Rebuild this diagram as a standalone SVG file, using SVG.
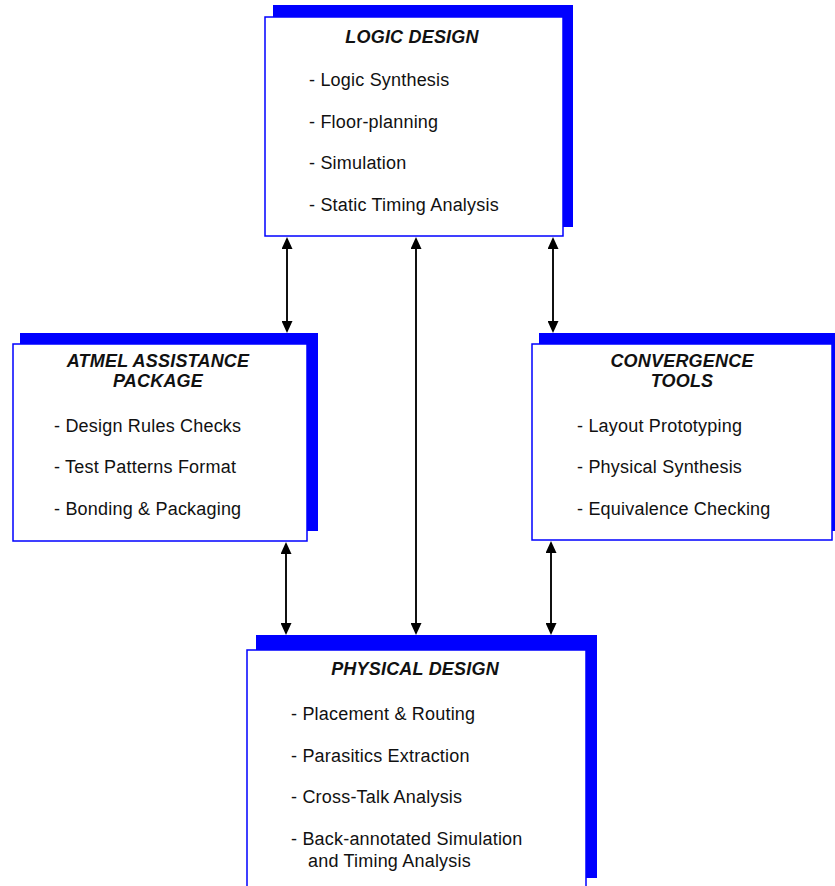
<svg xmlns="http://www.w3.org/2000/svg" width="835" height="886" viewBox="0 0 835 886">
<style>
.shadow{fill:#0000FF;stroke:none}
.box{fill:#FFFFFF;stroke:#0000FF;stroke-width:1.5}
.title{font-family:"Liberation Sans",Arial,sans-serif;font-size:18px;font-weight:bold;font-style:italic;fill:#111;text-anchor:middle;letter-spacing:0.2px}
.item{font-family:"Liberation Sans",Arial,sans-serif;font-size:18px;fill:#111;letter-spacing:0.2px}
.conn{stroke:#111;stroke-width:2;fill:none;marker-start:url(#ah);marker-end:url(#ah)}
</style>
<defs>
<marker id="ah" viewBox="0 0 12 11" refX="10" refY="5.5" markerWidth="12" markerHeight="11" markerUnits="userSpaceOnUse" orient="auto-start-reverse">
<path d="M0,0 L12,5.5 L0,11 z" fill="#000"/>
</marker>
</defs>
<rect x="0" y="0" width="835" height="886" fill="#FFFFFF"/>
<g id="connectors">
<line class="conn" x1="287" y1="239" x2="287" y2="331"/>
<line class="conn" x1="416" y1="239" x2="416" y2="633"/>
<line class="conn" x1="553" y1="239" x2="553" y2="331"/>
<line class="conn" x1="286" y1="544" x2="286" y2="633"/>
<line class="conn" x1="551" y1="543" x2="551" y2="633"/>
</g>
<g id="logic-design">
<rect class="shadow" x="273" y="5" width="300" height="222"/>
<rect class="box" x="265" y="17" width="298" height="219"/>
<text class="title" x="412" y="43">LOGIC DESIGN</text>
<text class="item" x="309" y="86">- Logic Synthesis</text>
<text class="item" x="309" y="128">- Floor-planning</text>
<text class="item" x="309" y="169">- Simulation</text>
<text class="item" x="309" y="211">- Static Timing Analysis</text>
</g>
<g id="atmel-assistance-package">
<rect class="shadow" x="20" y="333" width="298" height="198"/>
<rect class="box" x="13" y="344" width="294" height="197"/>
<text class="title" x="158" y="367">ATMEL ASSISTANCE</text>
<text class="title" x="158" y="387">PACKAGE</text>
<text class="item" x="54" y="432">- Design Rules Checks</text>
<text class="item" x="54" y="473">- Test Patterns Format</text>
<text class="item" x="54" y="515">- Bonding &amp; Packaging</text>
</g>
<g id="convergence-tools">
<rect class="shadow" x="539" y="333" width="310" height="198"/>
<rect class="box" x="532" y="344" width="300" height="196"/>
<text class="title" x="682" y="367">CONVERGENCE</text>
<text class="title" x="682" y="387">TOOLS</text>
<text class="item" x="577" y="432">- Layout Prototyping</text>
<text class="item" x="577" y="473">- Physical Synthesis</text>
<text class="item" x="577" y="515">- Equivalence Checking</text>
</g>
<g id="physical-design">
<rect class="shadow" x="256" y="635" width="341" height="243"/>
<rect class="box" x="247" y="650" width="339" height="250"/>
<text class="title" x="415" y="675">PHYSICAL DESIGN</text>
<text class="item" x="291" y="720">- Placement &amp; Routing</text>
<text class="item" x="291" y="762">- Parasitics Extraction</text>
<text class="item" x="291" y="803">- Cross-Talk Analysis</text>
<text class="item" x="291" y="845">- Back-annotated Simulation</text>
<text class="item" x="308" y="867">and Timing Analysis</text>
</g>
</svg>
